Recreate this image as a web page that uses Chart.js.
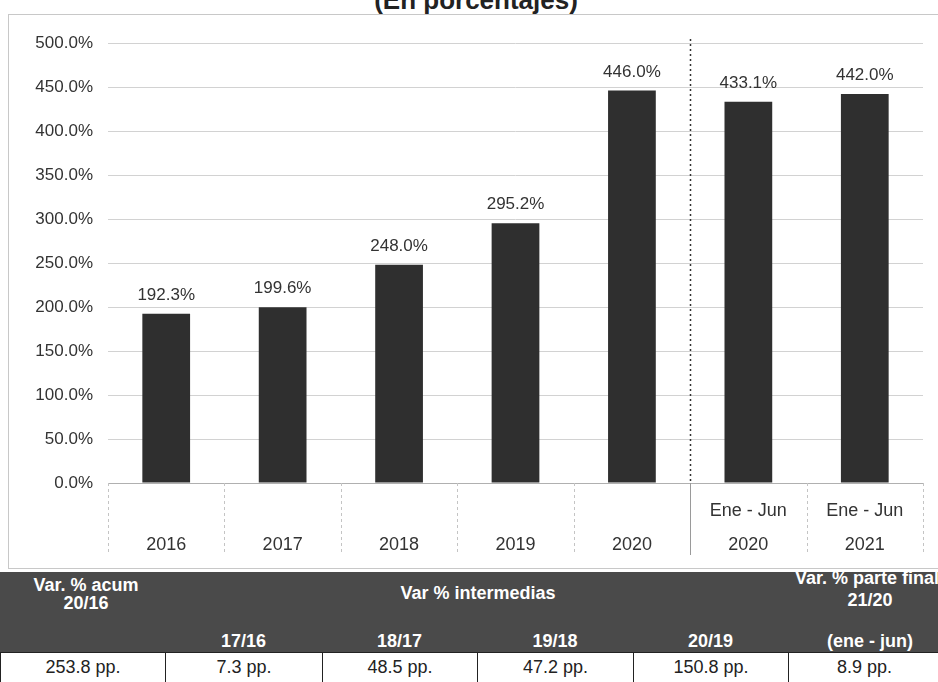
<!DOCTYPE html>
<html>
<head>
<meta charset="utf-8">
<script src="https://cdn.jsdelivr.net/npm/chart.js@4.4.1/dist/chart.umd.min.js"></script>
<style>
  body { margin: 0; background: #fff; font-family: "Liberation Sans", Arial, sans-serif; }
  #wrap { position: relative; width: 938px; height: 682px; overflow: hidden; }
  #frame { position: absolute; left: 8px; top: 14px; width: 940px; height: 555px; border: 1px solid #c8c8c8; box-sizing: border-box; }
  #title { position: absolute; left: 276px; width: 400px; top: -15px; line-height: 30px; text-align: center; font-weight: bold; font-size: 26px; color: #222; }
  #chartBox { position: absolute; left: 0; top: 0; width: 938px; height: 568px; }
  #hdr { position: absolute; left: 0; top: 572px; width: 938px; height: 80px; background: #4a4a4a; }
  .ht { position: absolute; color: #fff; font-weight: bold; font-size: 18px; line-height: 18px; white-space: nowrap; }
  .c { text-align: center; width: 200px; }
  .cell { position: absolute; top: 652px; height: 32px; line-height: 29px; border-left: 1px solid #222; border-top: 1px solid #222;
          box-sizing: border-box; text-align: center; font-size: 18px; color: #222; background: #fff; }
</style>
</head>
<body>
<div id="wrap">
  <div id="title">(En porcentajes)</div>
  <div id="frame"></div>
  <div id="chartBox"><canvas id="chart"></canvas></div>
  <div id="hdr"></div>
</div>
<script>
// Data
const periods = ['', '', '', '', '', 'Ene - Jun', 'Ene - Jun'];
const years   = ['2016', '2017', '2018', '2019', '2020', '2020', '2021'];
const values  = [192.3, 199.6, 248.0, 295.2, 446.0, 433.1, 442.0];
const yMin = 0, yMax = 500, yStep = 50;

// Table under the chart
const accumLabel   = ['Var. % acum', '20/16'];
const midLabel     = 'Var % intermedias';
const midPairs     = ['17/16', '18/17', '19/18', '20/19'];
const finalLabel   = ['Var. % parte final', '21/20', '(ene - jun)'];
const diffs        = [253.8, 7.3, 48.5, 47.2, 150.8, 8.9];

const pct = v => Number(v).toFixed(1) + '%';
const pp  = v => Number(v).toFixed(1) + ' pp.';
const FONT = '"Liberation Sans", Arial, sans-serif';

// Table
{
  const wrap = document.getElementById('wrap');
  const edges = [0, 165, 322, 477, 633, 788, 940];
  const add = (text, cls, style) => {
    const d = document.createElement('div');
    d.className = cls; d.textContent = text;
    Object.assign(d.style, style);
    wrap.appendChild(d);
  };
  const mid = i => (edges[i] + edges[i + 1]) / 2;
  add(accumLabel[0], 'ht c', { left: (86 - 100) + 'px', top: '576px' });
  add(accumLabel[1], 'ht c', { left: (86 - 100) + 'px', top: '594px' });
  add(midLabel, 'ht c', { left: (478 - 100) + 'px', top: '584px' });
  midPairs.forEach((t, i) => add(t, 'ht c', { left: (mid(i + 1) - 100) + 'px', top: '632px' }));
  add(finalLabel[0], 'ht', { left: '795px', top: '569px' });
  add(finalLabel[1], 'ht c', { left: (870 - 100) + 'px', top: '591px' });
  add(finalLabel[2], 'ht c', { left: (870 - 100) + 'px', top: '632px' });
  diffs.forEach((v, i) => add(pp(v), 'cell', { left: edges[i] + 'px', width: (edges[i + 1] - edges[i]) + 'px' }));
}

// Category dividers below the axis + dotted split line
const dividers = {
  id: 'dividers',
  afterDraw(chart) {
    const { ctx, chartArea: a, scales: { x } } = chart;
    const n = years.length;
    const w = (x.right - x.left) / n;
    ctx.save();
    for (let i = 0; i <= n; i++) {
      const px = Math.round(x.left + i * w) + 0.5;
      ctx.beginPath();
      ctx.lineWidth = 1;
      if (i === 5) { ctx.setLineDash([]); ctx.strokeStyle = '#9a9a9a'; }
      else { ctx.setLineDash([3, 3]); ctx.strokeStyle = '#c4c4c4'; }
      ctx.moveTo(px, a.bottom);
      ctx.lineTo(px, a.bottom + 72);
      ctx.stroke();
    }
    // dotted split between annual and semester figures
    const sx = Math.round(x.left + 5 * w) + 0.5;
    ctx.beginPath();
    ctx.setLineDash([2, 3]);
    ctx.strokeStyle = '#333';
    ctx.lineWidth = 1.5;
    ctx.moveTo(sx, a.top - 4);
    ctx.lineTo(sx, a.bottom);
    ctx.stroke();
    ctx.restore();
  }
};

// Value labels on top of bars
const valueLabels = {
  id: 'valueLabels',
  afterDatasetsDraw(chart) {
    const { ctx } = chart;
    ctx.save();
    ctx.font = '17px ' + FONT;
    ctx.fillStyle = '#333';
    ctx.textAlign = 'center';
    ctx.textBaseline = 'alphabetic';
    chart.getDatasetMeta(0).data.forEach((bar, i) => {
      ctx.fillText(pct(values[i]), bar.x, bar.y - 14);
    });
    ctx.restore();
  }
};

{
  const el = document.getElementById('chart');
  new Chart(el, {
    type: 'bar',
    data: {
      labels: years.map((y, i) => [periods[i], y]),
      datasets: [{ data: values, backgroundColor: '#2f2f2f', borderWidth: 0, barPercentage: 0.41, categoryPercentage: 1 }]
    },
    options: {
      responsive: true, maintainAspectRatio: false, animation: false,
      layout: { padding: { left: 8, right: 15, top: 43, bottom: 13 } },
      plugins: { legend: { display: false }, tooltip: { enabled: false } },
      scales: {
        y: {
          min: yMin, max: yMax,
          ticks: { stepSize: yStep, callback: v => pct(v), color: '#333', padding: 15,
                   font: { family: FONT, size: 17 } },
          grid: { color: '#d2d2d2', drawTicks: false },
          border: { display: false },
          afterFit: s => { s.width = 100; }
        },
        x: {
          ticks: { color: '#333', padding: 3, maxRotation: 0,
                   font: { family: FONT, size: 18, lineHeight: 34 / 18 } },
          grid: { display: false },
          border: { display: true, color: '#b0b0b0' },
          afterFit: s => { s.height = 72; }
        }
      }
    },
    plugins: [dividers, valueLabels]
  });
}
</script>
</body>
</html>
